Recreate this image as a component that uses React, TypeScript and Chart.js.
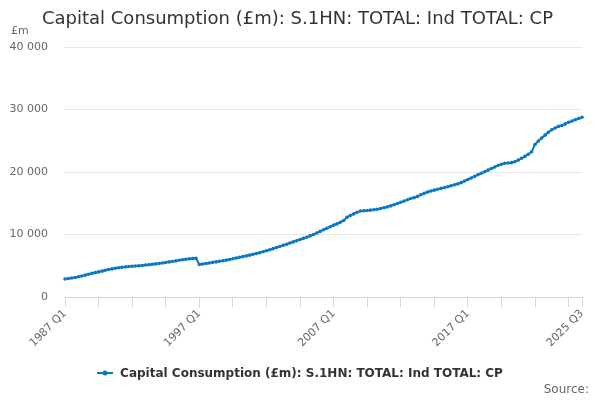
import React, { useEffect, useRef } from "react";
import { Chart, registerables } from "chart.js";

Chart.register(...registerables);

const TITLE = "Capital Consumption (£m): S.1HN: TOTAL: Ind TOTAL: CP";
const LINE_COLOR = "#0a78c2";

const startYear = 1987;
const years = [
  1987, 1988, 1989, 1990, 1991, 1992, 1993, 1994, 1995, 1996,
  1997, 1998, 1999, 2000, 2001, 2002, 2003, 2004, 2005, 2006,
  2007, 2008, 2009, 2010, 2011, 2012, 2013, 2014, 2015, 2016,
  2017, 2018, 2019, 2020, 2021, 2022, 2023, 2024, 2025,
];

// quarterly values, £m
const values = [
  // 1987 - 1996
  2880, 2960, 3040, 3130,
  3250, 3370, 3500, 3640,
  3780, 3900, 4020, 4140,
  4270, 4400, 4500, 4590,
  4680, 4760, 4820, 4870,
  4920, 4960, 5000, 5050,
  5110, 5170, 5240, 5300,
  5370, 5450, 5530, 5620,
  5690, 5780, 5870, 5950,
  6030, 6100, 6150, 6200,
  // 1997 - 2006
  5200, 5280, 5360, 5450,
  5540, 5620, 5710, 5800,
  5900, 6010, 6120, 6230,
  6350, 6460, 6580, 6700,
  6830, 6960, 7100, 7250,
  7410, 7570, 7740, 7910,
  8090, 8270, 8450, 8640,
  8820, 9000, 9190, 9380,
  9570, 9780, 10000, 10250,
  10500, 10750, 11000, 11240,
  // 2007 - 2016
  11500, 11700, 11950, 12250,
  12750, 13050, 13300, 13550,
  13750, 13800, 13850, 13900,
  13950, 14050, 14150, 14280,
  14420, 14580, 14750, 14950,
  15150, 15350, 15550, 15750,
  15900, 16100, 16350, 16600,
  16800, 16950, 17100, 17250,
  17380, 17500, 17650, 17800,
  17950, 18100, 18300, 18550,
  // 2017 - 2025 Q3
  18800, 19050, 19300, 19550,
  19800, 20050, 20300, 20550,
  20800, 21050, 21250, 21400,
  21450, 21500, 21650, 21900,
  22200, 22500, 22850, 23250,
  24400, 24950, 25450, 25900,
  26350, 26750, 27050, 27300,
  27450, 27700, 27950, 28150,
  28350, 28550, 28750,
];

const labels = values.map((_, i) => `${years[Math.floor(i / 4)] ?? startYear} Q${(i % 4) + 1}`);

const yTicks = [0, 10000, 20000, 30000, 40000];

const fmt = (v: number) => String(v).replace(/\B(?=(\d{3})+(?!\d))/g, " ");

export default function App() {
  const canvasRef = useRef<HTMLCanvasElement>(null);

  useEffect(() => {
    document.body.style.margin = "0";
    Chart.defaults.font.family = "'DejaVu Sans', sans-serif";

    const last = labels.length - 1;
    const chart = new Chart(canvasRef.current!, {
      type: "line",
      data: {
        labels,
        datasets: [
          {
            label: TITLE,
            data: values,
            borderColor: LINE_COLOR,
            backgroundColor: LINE_COLOR,
            borderWidth: 2,
            pointRadius: 1.8,
            pointHoverRadius: 3,
            pointBorderWidth: 0,
            tension: 0,
            fill: false,
          },
        ],
      },
      options: {
        animation: false,
        responsive: false,
        maintainAspectRatio: false,
        layout: { padding: { top: 47, right: 18, bottom: 43, left: 0 } },
        plugins: {
          legend: { display: false },
          title: { display: false },
          tooltip: { enabled: false },
        },
        scales: {
          x: {
            type: "category",
            offset: false,
            afterFit: (s: any) => {
              s.height = 60;
            },
            border: { display: true, color: "#ccd6eb", width: 1 },
            grid: {
              display: true,
              drawOnChartArea: false,
              drawTicks: true,
              tickLength: 10,
              color: "#ccd6eb",
            },
            ticks: {
              autoSkip: false,
              maxRotation: 45,
              minRotation: 45,
              padding: 0,
              color: "#666666",
              font: { size: 11 },
              callback: (_v: any, i: number) => {
                if (i % 40 === 0 || i === last) return labels[i];
                if (i % 10 === 0) return "";
                return null;
              },
            },
          },
          y: {
            min: 0,
            max: 40000,
            afterFit: (s: any) => {
              s.width = 65;
            },
            afterBuildTicks: (s: any) => {
              s.ticks = yTicks.map((v) => ({ value: v }));
            },
            border: { display: false },
            grid: { color: "#e6e6e6", drawTicks: false, lineWidth: 1 },
            ticks: {
              padding: 17,
              color: "#666666",
              font: { size: 11 },
              callback: (v: any) => fmt(Number(v)),
            },
          },
        },
      },
    } as any);

    return () => chart.destroy();
  }, []);

  const sans = "'DejaVu Sans', sans-serif";

  return (
    <div style={{ position: "relative", width: 600, height: 400, fontFamily: sans, background: "#fff" }}>
      <canvas ref={canvasRef} width={600} height={400} style={{ position: "absolute", left: 0, top: 0 }} />
      <div
        style={{
          position: "absolute",
          top: 8,
          left: 0,
          width: 595,
          textAlign: "center",
          fontSize: 18,
          lineHeight: "20px",
          color: "#333333",
          whiteSpace: "nowrap",
        }}
      >
        {TITLE}
      </div>
      <div style={{ position: "absolute", top: 24, left: 11, fontSize: 11, lineHeight: "14px", color: "#666666" }}>£m</div>
      <div
        style={{
          position: "absolute",
          top: 365,
          left: 0,
          width: 600,
          display: "flex",
          justifyContent: "center",
          alignItems: "center",
          height: 16,
        }}
      >
        <svg width={16} height={10} style={{ marginRight: 7 }}>
          <line x1={0} y1={5} x2={16} y2={5} stroke={LINE_COLOR} strokeWidth={2} />
          <circle cx={8} cy={5} r={2.5} fill={LINE_COLOR} />
        </svg>
        <span style={{ fontSize: 12, fontWeight: "bold", color: "#333333", whiteSpace: "nowrap" }}>{TITLE}</span>
      </div>
      <div style={{ position: "absolute", top: 381, right: 11, fontSize: 12, lineHeight: "16px", color: "#666666" }}>Source:</div>
    </div>
  );
}
